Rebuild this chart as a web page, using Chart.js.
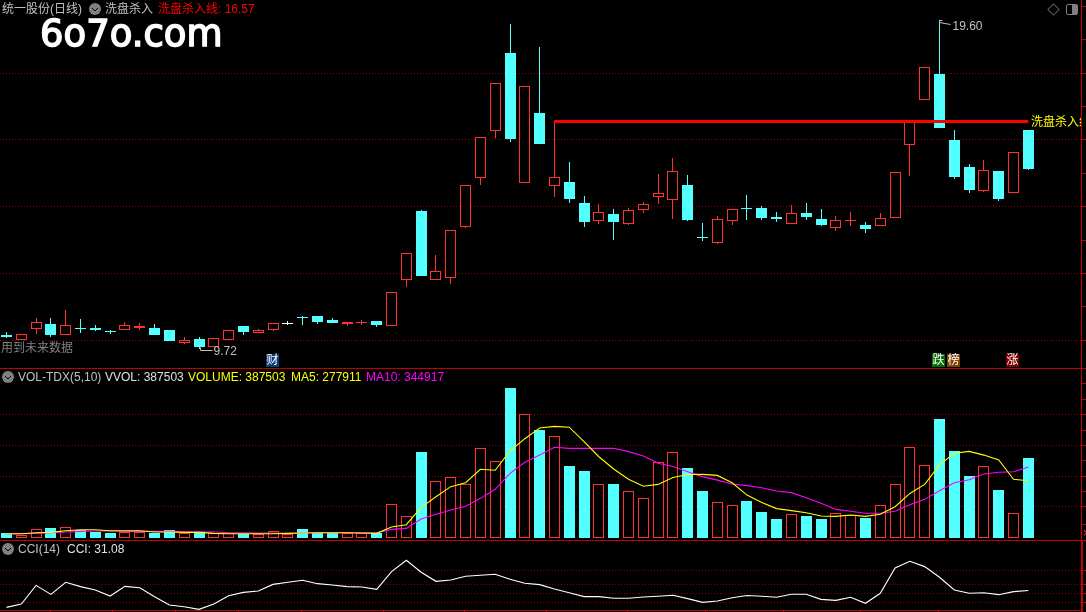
<!DOCTYPE html>
<html>
<head>
<meta charset="utf-8">
<script src="https://cdn.jsdelivr.net/npm/chart.js@4"></script>
<style>
  html, body { margin: 0; padding: 0; background: #000; overflow: hidden; }
  #page { position: relative; width: 1086px; height: 612px; background: #000; overflow: hidden;
          font: 12px "Liberation Sans", "Noto Sans CJK SC", sans-serif; }
  .pane { position: absolute; left: 0; width: 1086px; }
  .pane canvas { display: block; }
  #volPane, #cciPane { border-top: 1px solid #c00000; }
  .t { position: absolute; white-space: nowrap; line-height: 14px; color: #c0c0c0; }
  .ic { position: absolute; width: 12px; height: 12px; }
  .badge { position: absolute; width: 13px; height: 13px; line-height: 13px; text-align: center; color: #fff;
           font-size: 12px; }
  #logo { position: absolute; left: 40px; top: 12px; color: #fff; line-height: 44px;
          font: 37px/44px "DejaVu Sans", sans-serif; -webkit-text-stroke: 1.5px #fff; }
  #diamond { position: absolute; left: 1049px; top: 5px; width: 7px; height: 7px; border: 1px solid #606060;
             transform: rotate(45deg); }
  #panelBox { position: absolute; left: 1066px; top: 4px; width: 10px; height: 9px; border: 1px solid #808080;
              border-radius: 2px; background: linear-gradient(90deg, #000 50%, #808080 50%); }
  #cciEdge { position: absolute; left: 1081px; top: 541px; width: 2px; height: 71px; background: #c00000; }
</style>
</head>
<body>
<div id="page">
  <div class="pane" id="pricePane" style="top:0;height:368px"><canvas id="priceChart" width="1086" height="368"></canvas></div>
  <div class="pane" id="volPane" style="top:368px;height:171px"><canvas id="volChart" width="1086" height="171"></canvas></div>
  <div class="pane" id="cciPane" style="top:540px;height:71px"><canvas id="cciChart" width="1086" height="71"></canvas></div>
  <div id="cciEdge"></div>

  <span class="t" style="left:2px;top:2px">统一股份(日线)</span>
  <svg class="ic" style="left:89px;top:3px" viewBox="0 0 12 12"><circle cx="6" cy="6" r="6" fill="#808080"/><path d="M3 5l3 3 3-3" stroke="#000" fill="none"/></svg>
  <span class="t" style="left:105px;top:2px">洗盘杀入</span>
  <span class="t" style="left:158px;top:2px;color:#ff0000">洗盘杀入线: 16.57</span>
  <div id="logo">6o7o.com</div>
  <div id="diamond"></div>
  <div id="panelBox"></div>

  <span class="t" style="left:1031px;top:115px;width:50px;overflow:hidden;color:#ffff00">洗盘杀入线</span>
  <span class="t" style="left:1083px;top:526px;width:3px;overflow:hidden;color:#ff3232">×</span>
  <span class="t" style="left:1px;top:341px;color:#808080;background:#000">用到未来数据</span>
  <span class="badge" style="left:266px;top:354px;background:#0a3c78">财</span>
  <span class="badge" style="left:932px;top:354px;background:#007000">跌</span>
  <span class="badge" style="left:947px;top:354px;background:#804000">榜</span>
  <span class="badge" style="left:1006px;top:354px;background:#800000">涨</span>

  <svg class="ic" style="left:2px;top:371px" viewBox="0 0 12 12"><circle cx="6" cy="6" r="6" fill="#808080"/><path d="M3 5l3 3 3-3" stroke="#000" fill="none"/></svg>
  <span class="t" style="left:18px;top:370px">VOL-TDX(5,10)</span>
  <span class="t" style="left:105px;top:370px;color:#e0e0e0">VVOL: 387503</span>
  <span class="t" style="left:188px;top:370px;color:#ffff00">VOLUME: 387503</span>
  <span class="t" style="left:291px;top:370px;color:#ffff00">MA5: 277911</span>
  <span class="t" style="left:366px;top:370px;color:#ff00ff">MA10: 344917</span>

  <svg class="ic" style="left:2px;top:543px" viewBox="0 0 12 12"><circle cx="6" cy="6" r="6" fill="#808080"/><path d="M3 5l3 3 3-3" stroke="#000" fill="none"/></svg>
  <span class="t" style="left:18px;top:542px">CCI(14)</span>
  <span class="t" style="left:67px;top:542px;color:#e0e0e0">CCI: 31.08</span>
</div>

<script>
const opens = [10.15,10.01,10.32,10.48,10.14,10.37,10.36,10.26,10.29,10.37,
  10.35,10.29,9.92,10.02,9.80,10.01,10.41,10.22,10.31,10.52,
  10.70,10.72,10.60,10.49,10.50,10.56,10.41,11.79,13.87,11.79,
  11.85,13.40,14.85,16.28,18.61,14.70,16.81,14.63,14.74,14.11,
  13.58,13.78,13.49,13.91,14.30,14.21,14.65,13.10,12.92,13.58,
  13.96,13.96,13.69,13.49,13.81,13.63,13.37,13.56,13.45,13.43,
  13.67,15.86,17.21,17.98,16.00,15.19,14.48,15.07,14.42,16.30];
const closes = [10.10,10.17,10.55,10.15,10.45,10.35,10.30,10.24,10.44,10.42,
  10.15,9.98,9.99,9.79,10.05,10.29,10.25,10.29,10.50,10.52,
  10.66,10.55,10.52,10.53,10.54,10.45,11.45,12.62,11.93,12.08,
  13.29,14.64,16.08,17.70,16.03,17.61,15.88,14.88,14.23,13.54,
  13.83,13.54,13.89,14.07,14.40,15.06,13.60,13.07,13.62,13.92,
  13.93,13.66,13.63,13.80,13.69,13.45,13.59,13.60,13.33,13.65,
  15.03,16.54,18.18,16.36,14.89,14.50,15.09,14.23,15.63,15.13];
const highs = [10.23,10.17,10.65,10.65,10.90,10.62,10.44,10.31,10.54,10.52,
  10.48,10.29,10.09,10.09,10.05,10.29,10.41,10.32,10.50,10.58,
  10.72,10.72,10.66,10.53,10.60,10.56,11.45,12.62,13.90,12.55,
  13.29,14.64,16.08,17.70,19.48,17.61,18.79,16.56,15.33,14.32,
  14.07,13.93,13.95,14.14,14.98,15.45,14.95,13.50,13.72,13.94,
  14.34,14.02,13.84,14.05,14.11,13.93,13.72,13.84,13.54,13.80,
  15.03,16.54,18.18,19.60,16.30,15.28,15.40,15.07,15.63,16.30];
const lows = [10.05,10.01,10.19,10.09,10.14,10.22,10.27,10.19,10.29,10.31,
  10.15,9.98,9.89,9.72,9.80,10.01,10.15,10.22,10.28,10.44,
  10.46,10.48,10.52,10.43,10.45,10.40,10.41,11.60,11.93,11.79,
  11.69,13.37,14.65,16.07,15.95,14.70,15.88,14.30,14.12,13.40,
  13.49,13.00,13.45,13.82,14.08,13.63,13.57,12.98,12.89,13.45,
  13.60,13.60,13.54,13.49,13.60,13.42,13.27,13.42,13.21,13.43,
  13.67,14.93,17.21,16.36,14.83,14.42,14.45,14.18,14.42,15.10];
const volumes = [21000,15000,41000,47000,50000,39000,28000,23000,28000,26000,
  24000,36000,21000,26000,21000,21000,20000,18000,31000,16000,
  41000,21000,23000,21000,23000,21000,163000,104000,418000,275000,
  294000,260000,436000,373000,731000,602000,526000,495000,350000,325000,
  260000,262000,226000,192000,368000,417000,340000,228000,172000,159000,
  179000,125000,91000,114000,106000,91000,119000,112000,96000,158000,
  260000,441000,353000,579000,423000,301000,348000,233000,119000,387503];
const ma5 = [19500,19500,24400,26000,34200,39000,39000,34200,34200,34200,
  27700,27700,26000,26000,21200,19500,19500,19500,19500,21200,
  22800,24400,24400,24400,22800,21200,52000,63500,148000,200000,
  249000,268000,334000,329000,423000,483000,535000,543000,539000,469000,
  395000,335000,285000,251000,260000,294000,308000,309000,304000,268000,
  208000,172000,142000,132000,122000,106000,104000,111000,104000,114000,
  151000,216000,260000,355000,412000,421000,403000,379000,285000,277911];
const ma10 = [17900,19500,21200,24400,27700,30900,32500,32500,30900,30900,
  30900,30900,29300,29300,27700,24400,24400,22800,22800,21200,
  22800,24400,24400,24400,24400,24400,40700,45600,91100,114000,
  135000,153000,192000,236000,314000,368000,403000,441000,436000,436000,
  436000,436000,420000,399000,363000,347000,322000,298000,281000,262000,
  254000,244000,228000,220000,195000,168000,138000,129000,119000,119000,
  129000,161000,187000,229000,268000,283000,311000,319000,322000,344917];
const cci = [-156,-119,88,-12,122,74,37,-30,77,62,
  -38,-130,-149,-178,-119,-26,10,25,99,122,
  144,107,92,74,70,44,240,366,233,133,
  148,189,200,211,155,111,96,48,7,-37,
  -37,-55,-55,-41,-33,-22,-59,-100,-85,-50,
  -25,-33,-44,-11,-11,-67,-78,-44,-111,0,
  281,355,296,178,37,0,7,-15,19,31.08];

const killPrice = 16.555;
const killFrom = 37;
const killTo = 69;
const highMark = { index: 63, value: 19.60 };
const lowMark = { index: 13, value: 9.72 };

const priceTicks = [10,11,12,13,14,15,16,17,18,19,20];
const priceGrid = [10,12,14,16,18];
const volTicks = [62000,150000,225000,300000,375000,450000,525000,600000,675000,750000];
const volGrid = [150000,300000,450000,600000];
const cciTicks = [-100,0,100,250];
const dateTicks = [2.94,7.19,11.43,15.67,19.92,25.45,30.93,36.46,41.96,47.2,52.44,57.67,62.94];

const RED = "#ff3232";
const CYAN = "#54ffff";
const AXIS = "#c00000";
const DOT = "#900000";

const xs = closes.map((_, i) => i);
const candleColor = (i) =>
  closes[i] > opens[i] ? RED : closes[i] < opens[i] ? CYAN : "#ffffff";
const hollow = (i) => (closes[i] > opens[i] ? "#000000" : candleColor(i));
const line = (points, color, width) => ({
  type: "line",
  data: points,
  borderColor: color,
  borderWidth: width,
  pointRadius: 0,
  tension: 0,
  order: 1,
});
const series = (values) => values.map((v, i) => ({ x: i, y: v }));

// keep bars on whole pixels so the 1px outlines stay sharp
const snapBars = {
  id: "snapBars",
  beforeDatasetsDraw(chart) {
    chart.getSortedVisibleDatasetMetas().forEach((meta) => {
      if (meta.type !== "bar") return;
      meta.data.forEach((el) => {
        el.x = Math.floor(el.x) + 0.5;
        el.y = Math.round(el.y);
        el.base = Math.round(el.base);
        if (el.base === el.y) el.base = el.y + 1;
      });
    });
  },
};

// the small high / low price flags
const priceMarks = {
  id: "priceMarks",
  afterDatasetsDraw(chart) {
    const { ctx, scales } = chart;
    ctx.save();
    ctx.strokeStyle = "#c0c0c0";
    ctx.fillStyle = "#c0c0c0";
    ctx.font = '12px "Liberation Sans"';
    ctx.textBaseline = "middle";
    ctx.lineWidth = 1;

    const hx = Math.floor(scales.x.getPixelForValue(highMark.index)) + 0.5;
    const hy = Math.round(scales.y.getPixelForValue(highMark.value)) + 0.5;
    ctx.beginPath();
    ctx.moveTo(hx, hy + 3);
    ctx.lineTo(hx, hy);
    ctx.lineTo(hx + 3, hy);
    ctx.moveTo(hx, hy + 2);
    ctx.lineTo(hx + 11, hy + 4);
    ctx.stroke();
    ctx.fillText(highMark.value.toFixed(2), hx + 13, hy + 6);

    const lx = Math.floor(scales.x.getPixelForValue(lowMark.index)) + 0.5;
    const ly = Math.round(scales.y.getPixelForValue(lowMark.value)) + 0.5;
    ctx.beginPath();
    ctx.moveTo(lx + 1, ly - 2);
    ctx.lineTo(lx + 1, ly + 1);
    ctx.lineTo(lx + 13, ly + 1);
    ctx.stroke();
    ctx.fillText(lowMark.value.toFixed(2), lx + 14, ly + 2);
    ctx.restore();
  },
};

function yAxis(min, max, ticks, grid) {
  return {
    position: "right",
    min,
    max,
    afterBuildTicks: (scale) => {
      scale.ticks = ticks.map((value) => ({ value }));
    },
    ticks: { display: false },
    border: { display: true, color: AXIS, width: 1, dash: [1, 2] },
    grid: {
      drawOnChartArea: true,
      tickLength: 5,
      tickColor: AXIS,
      lineWidth: 1,
      color: (c) => (grid.includes(c.tick.value) ? DOT : "transparent"),
    },
  };
}

function xAxis(showTicks) {
  return {
    type: "linear",
    offset: false,
    min: -0.4376,
    max: 72.554,
    display: showTicks,
    afterBuildTicks: (scale) => {
      scale.ticks = dateTicks.map((value) => ({ value }));
    },
    ticks: { display: false },
    border: { display: true, color: AXIS, width: 1 },
    grid: { drawOnChartArea: false, tickLength: 2, tickColor: AXIS },
  };
}

const baseOptions = {
  responsive: false,
  devicePixelRatio: 1,
  animation: false,
  layout: { padding: 0 },
  events: [],
  plugins: { legend: { display: false }, tooltip: { enabled: false } },
};

new Chart(document.getElementById("priceChart"), {
  type: "bar",
  data: {
    datasets: [
      {
        data: xs.map((i) => ({ x: i, y: [lows[i], highs[i]] })),
        backgroundColor: xs.map(candleColor),
        borderWidth: 0,
        inflateAmount: 0,
        barThickness: 1,
        grouped: false,
        order: 3,
      },
      {
        data: xs.map((i) => ({ x: i, y: [opens[i], closes[i]] })),
        backgroundColor: xs.map(hollow),
        borderColor: xs.map(candleColor),
        borderWidth: 1,
        borderSkipped: false,
        inflateAmount: 0,
        barThickness: 11,
        grouped: false,
        order: 2,
      },
      line(
        [
          { x: killFrom, y: killPrice },
          { x: killTo, y: killPrice },
        ],
        "#ff0000",
        3
      ),
    ],
  },
  options: {
    ...baseOptions,
    scales: { x: xAxis(false), y: yAxis(9.16, 20.2, priceTicks, priceGrid) },
  },
  plugins: [snapBars, priceMarks],
});

new Chart(document.getElementById("volChart"), {
  type: "bar",
  data: {
    datasets: [
      {
        data: xs.map((i) => ({ x: i, y: volumes[i] })),
        backgroundColor: xs.map((i) => (closes[i] >= opens[i] ? "#000000" : CYAN)),
        borderColor: xs.map((i) => (closes[i] >= opens[i] ? RED : CYAN)),
        borderWidth: 1,
        borderSkipped: false,
        inflateAmount: 0,
        barThickness: 11,
        grouped: false,
        order: 2,
      },
      line(series(ma5), "#ffff00", 1.1),
      line(series(ma10), "#ff00ff", 1.1),
    ],
  },
  options: {
    ...baseOptions,
    scales: { x: xAxis(false), y: yAxis(-11200, 823000, volTicks, volGrid) },
  },
  plugins: [snapBars],
});

new Chart(document.getElementById("cciChart"), {
  type: "line",
  data: { datasets: [line(series(cci), "#ffffff", 1.1)] },
  options: {
    ...baseOptions,
    scales: { x: xAxis(true), y: yAxis(-185, 580, cciTicks, cciTicks) },
  },
});
</script>
</body>
</html>
